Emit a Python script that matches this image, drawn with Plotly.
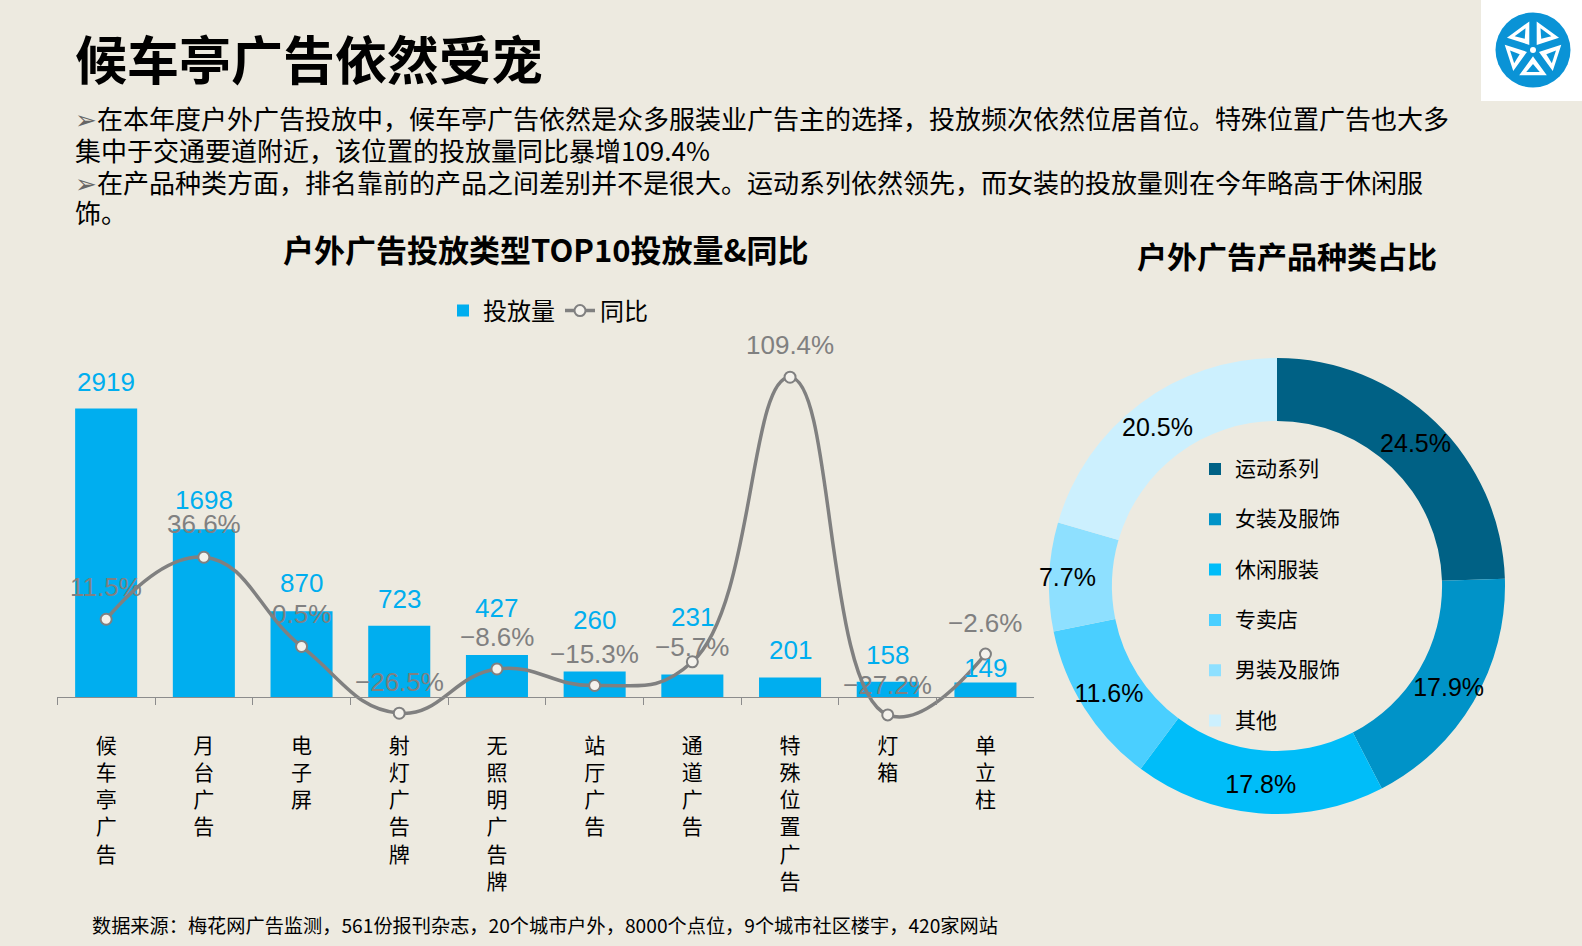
import plotly.graph_objects as go
import numpy as np

W, H = 1582, 946


def px(x):
    return x / W


def py(y):
    return 1 - y / H


# ---------------- data ----------------
categories = ["候车亭广告", "月台广告", "电子屏", "射灯广告牌", "无照明广告牌",
              "站厅广告", "通道广告", "特殊位置广告", "灯箱", "单立柱"]
volumes = [2919, 1698, 870, 723, 427, 260, 231, 201, 158, 149]
yoy_pct = [11.5, 36.6, 0.5, -26.5, -8.6, -15.3, -5.7, 109.4, -27.2, -2.6]

pie_labels = ["运动系列", "女装及服饰", "休闲服装", "专卖店", "男装及服饰", "其他"]
pie_values = [24.5, 17.9, 17.8, 11.6, 7.7, 20.5]
pie_colors = ["#006185", "#0093C8", "#00BDF9", "#4ACFFF", "#8EE0FF", "#CCF0FE"]

title_text = "候车亭广告依然受宠"
body_lines = [
    "➢在本年度户外广告投放中，候车亭广告依然是众多服装业广告主的选择，投放频次依然位居首位。特殊位置广告也大多",
    "集中于交通要道附近，该位置的投放量同比暴增109.4%",
    "➢在产品种类方面，排名靠前的产品之间差别并不是很大。运动系列依然领先，而女装的投放量则在今年略高于休闲服",
    "饰。",
]
bar_chart_title = "户外广告投放类型TOP10投放量&同比"
pie_chart_title = "户外广告产品种类占比"
source_text = "数据来源：梅花网广告监测，561份报刊杂志，20个城市户外，8000个点位，9个城市社区楼宇，420家网站"

# label offsets (pixels above the mark) - styling only
bar_label_shift = [27, 29, 28, 27, 47, 52, 57, 27, 27, 15]
yoy_label_shift = [32, 33, 32, 31, 32, 32, 15, 32, 30, 31]

# ---------------- styles ----------------
BG = "#EDEAE0"
BAR_BLUE = "#00AEEF"
GRAY = "#808080"
CJK = "Noto Sans CJK SC, sans-serif"
NUM = "Liberation Sans, Arial, sans-serif"

tick_text = ["<br>".join(list(c)) for c in categories]

fig = go.Figure()

fig.add_trace(go.Bar(
    x=categories, y=volumes, name="投放量", marker_color=BAR_BLUE,
    marker_line_width=0, yaxis="y", legend="legend",
))
fig.add_trace(go.Scatter(
    x=categories, y=yoy_pct, name="同比", yaxis="y2", mode="lines+markers",
    line=dict(color=GRAY, width=3.5, shape="spline", smoothing=1.3),
    marker=dict(size=11, color="#F4F2EC", line=dict(color=GRAY, width=2)),
    legend="legend",
))

# donut ring (colours + legend)
pie_legend_labels = ["<span style='font-size:21px'>%s</span><br> " % c for c in pie_labels]
fig.add_trace(go.Pie(
    labels=pie_legend_labels, values=pie_values, hole=0.724, sort=False,
    direction="clockwise", rotation=0,
    marker=dict(colors=pie_colors, line=dict(width=0)),
    textinfo="none",
    domain=dict(x=[px(1049), px(1505)], y=[py(814), py(358)]),
    legend="legend2", hoverinfo="skip",
))
# transparent companion ring carrying the percentage labels (wider so text is not shrunk)
fig.add_trace(go.Pie(
    labels=pie_labels, values=pie_values, hole=0.531, sort=False,
    direction="clockwise", rotation=0,
    marker=dict(colors=["rgba(0,0,0,0)"] * len(pie_values), line=dict(width=0)),
    texttemplate="%{value:.1f}%", textposition="inside",
    insidetextorientation="horizontal",
    textfont=dict(family=NUM, size=25, color="#000000"),
    domain=dict(x=[px(1277 - 260), px(1277 + 260)], y=[py(586 + 260), py(586 - 260)]),
    showlegend=False, hoverinfo="skip",
))

annotations = []
# bar value labels
for c, v, s in zip(categories, volumes, bar_label_shift):
    annotations.append(dict(
        x=c, y=v, xref="x", yref="y", text=str(v), showarrow=False,
        yanchor="middle", yshift=s,
        font=dict(family=NUM, size=26, color=BAR_BLUE),
    ))
# yoy labels
for c, v, s in zip(categories, yoy_pct, yoy_label_shift):
    label = ("\u2212" if v < 0 else "") + "%.1f%%" % abs(v)
    annotations.append(dict(
        x=c, y=v, xref="x", yref="y2", text=label, showarrow=False,
        yanchor="middle", yshift=s,
        font=dict(family=NUM, size=26, color=GRAY),
    ))

# titles and body text
annotations.append(dict(
    x=px(73), y=py(57), xref="paper", yref="paper", xanchor="left", yanchor="middle",
    text="<b>%s</b>" % title_text, showarrow=False,
    font=dict(family=CJK, size=52, color="#000000"),
))
body_y = [118, 149.5, 181.5, 212]
for line, yy in zip(body_lines, body_y):
    t = line.replace("➢", "<span style='color:#666666'>➢</span>")
    annotations.append(dict(
        x=px(73), y=py(yy), xref="paper", yref="paper", xanchor="left", yanchor="middle",
        text=t, showarrow=False, font=dict(family=CJK, size=26, color="#000000"),
    ))
annotations.append(dict(
    x=px(545), y=py(248), xref="paper", yref="paper", xanchor="center", yanchor="middle",
    text="<b>%s</b>" % bar_chart_title, showarrow=False,
    font=dict(family=CJK, size=31, color="#000000"),
))
annotations.append(dict(
    x=px(1287), y=py(255), xref="paper", yref="paper", xanchor="center", yanchor="middle",
    text="<b>%s</b>" % pie_chart_title, showarrow=False,
    font=dict(family=CJK, size=30, color="#000000"),
))
annotations.append(dict(
    x=px(90), y=py(925), xref="paper", yref="paper", xanchor="left", yanchor="middle",
    text=source_text, showarrow=False, font=dict(family=CJK, size=19.2, color="#000000"),
))

# logo (decorative)
shapes = [
    dict(type="rect", xref="paper", yref="paper", x0=px(1481), x1=px(1582), y0=py(101), y1=py(0),
         fillcolor="#FFFFFF", line=dict(width=0), layer="above"),
    dict(type="circle", xref="paper", yref="paper", x0=px(1533 - 37.5), x1=px(1533 + 37.5),
         y0=py(50 + 37.5), y1=py(50 - 37.5), fillcolor="#0A93D6", line=dict(width=0), layer="above"),
]
cx, cy = 1533, 50


def tri_path(r_in, r_out, half_deg, ang_deg):
    a = np.deg2rad(ang_deg)
    h = np.deg2rad(half_deg)
    pts = [(cx + r_in * np.cos(a), cy + r_in * np.sin(a)),
           (cx + r_out * np.cos(a - h), cy + r_out * np.sin(a - h)),
           (cx + r_out * np.cos(a + h), cy + r_out * np.sin(a + h))]
    return "M %f,%f L %f,%f L %f,%f Z" % tuple(v for p in pts for v in (px(p[0]), py(p[1])))


for k in range(5):
    ang = -90 + 72 * k + 36
    shapes.append(dict(type="path", xref="paper", yref="paper", path=tri_path(8, 27, 26, ang),
                       fillcolor="#FFFFFF", line=dict(color="#FFFFFF", width=2), layer="above"))
    shapes.append(dict(type="path", xref="paper", yref="paper", path=tri_path(14, 23, 17, ang),
                       fillcolor="#0A93D6", line=dict(width=0), layer="above"))
shapes.append(dict(type="circle", xref="paper", yref="paper", x0=px(cx - 3), x1=px(cx + 3),
                   y0=py(cy + 3), y1=py(cy - 3), fillcolor="#FFFFFF", line=dict(width=0), layer="above"))

fig.update_layout(
    width=W, height=H,
    margin=dict(l=0, r=0, t=0, b=0),
    paper_bgcolor=BG, plot_bgcolor="rgba(0,0,0,0)",
    bargap=0.365,
    xaxis=dict(
        domain=[px(57.3), px(1034.3)], type="category", range=[-0.5, 9.5],
        anchor="free", position=py(697.3),
        showline=True, linecolor="#8C8C8C", linewidth=1,
        ticks="outside", ticklen=7, tickcolor="#8C8C8C", tickson="boundaries",
        tickvals=categories, ticktext=tick_text, ticklabelstandoff=29,
        tickfont=dict(family=CJK, size=21, color="#000000"),
        showgrid=False, zeroline=False, fixedrange=True,
    ),
    yaxis=dict(domain=[py(760), py(330)], range=[-634.0, 3713.9], visible=False,
               showgrid=False, zeroline=False, fixedrange=True),
    yaxis2=dict(overlaying="y", range=[-45.43, 128.5], visible=False,
                showgrid=False, zeroline=False, fixedrange=True),
    legend=dict(orientation="h", x=px(548), xanchor="center", y=py(311), yanchor="middle",
                font=dict(family=CJK, size=24, color="#000000"), bgcolor="rgba(0,0,0,0)"),
    legend2=dict(orientation="v", x=px(1195), xanchor="left", y=py(450.6), yanchor="top",
                 valign="top", font=dict(family=CJK, size=18.2, color="#000000"),
                 bgcolor="rgba(0,0,0,0)"),
    annotations=annotations,
    shapes=shapes,
    showlegend=True,
)

fig.write_html("out.html", config={"displayModeBar": False},
               post_script="document.body.style.margin='0';document.body.style.overflow='hidden';")
